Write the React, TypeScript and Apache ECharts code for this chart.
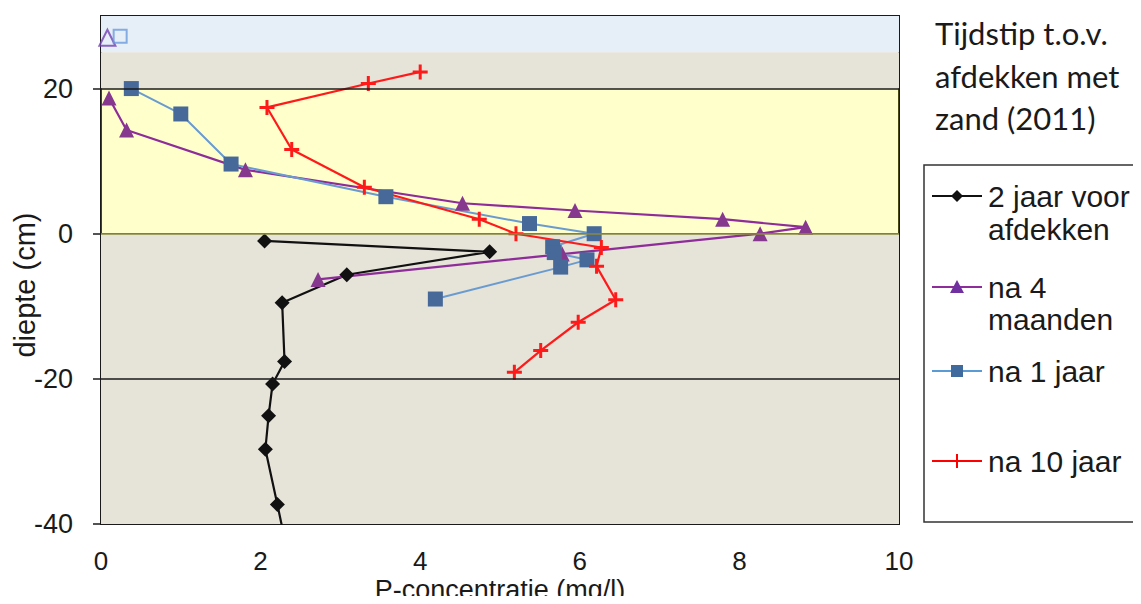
import React, { useEffect, useRef } from "react";
import * as echarts from "echarts";

// ---- data (x = P-concentratie mg/l, y = diepte cm) ----
const serieNames = ["2 jaar voor afdekken", "na 4 maanden", "na 1 jaar", "na 10 jaar"];

const jaar2Voor: number[][] = [
  [2.05, -1.0], [4.87, -2.5], [3.08, -5.65], [2.27, -9.5], [2.30, -17.6],
  [2.15, -20.7], [2.10, -25.1], [2.06, -29.7], [2.21, -37.3], [2.30, -42.0],
];
const na4Maanden: number[][] = [
  [0.10, 18.7], [0.32, 14.3], [1.81, 8.8], [4.53, 4.2], [5.94, 3.2],
  [7.79, 2.0], [8.83, 0.9], [8.26, 0.0], [5.78, -2.8], [2.72, -6.3],
];
const na1Jaar: number[][] = [
  [0.38, 20.0], [1.00, 16.5], [1.63, 9.6], [3.57, 5.1], [5.37, 1.4],
  [6.18, 0.0], [5.66, -1.8], [5.68, -2.6], [6.09, -3.6], [5.76, -4.6], [4.19, -9.0],
];
const na10Jaar: number[][] = [
  [4.00, 22.3], [3.35, 20.7], [2.08, 17.4], [2.39, 11.6], [3.30, 6.4],
  [4.74, 2.0], [5.20, 0.0], [6.27, -1.9], [6.21, -4.5], [6.45, -9.1],
  [5.98, -12.2], [5.51, -16.1], [5.18, -19.1],
];
const waterNa4Maanden: number[][] = [[0.08, 27.0]];
const waterNa1Jaar: number[][] = [[0.24, 27.2]];

const yTickValues = [-40, -20, 0, 20];
const xTickValues = [0, 2, 4, 6, 8, 10];

const legendTitle = ["Tijdstip t.o.v.", "afdekken met", "zand (2011)"];

const PLUS = "path://M4,0H6V4H10V6H6V10H4V6H0V4H4Z";

export default function App() {
  const ref = useRef<HTMLDivElement>(null);
  useEffect(() => {
    if (!ref.current) return;
    const chart = echarts.init(ref.current, undefined, { renderer: "svg" });

    const legendX1 = 932;
    const legendX2 = 982;
    const legendMx = 957;
    const textX = 988;
    const font = "'Liberation Sans', Arial, sans-serif";
    const legendFont = `30px ${font}`;

    const legendItems: any[] = [];
    const addLine = (y: number, color: string) =>
      legendItems.push({
        type: "line",
        shape: { x1: legendX1, y1: y, x2: legendX2, y2: y },
        style: { stroke: color, lineWidth: 2 },
      });
    const addText = (y: number, t: string) =>
      legendItems.push({
        type: "text",
        x: textX,
        y,
        style: { text: t, font: legendFont, fill: "#1a1a1a", verticalAlign: "middle" },
      });

    // item 1: black diamond
    addLine(196, "#111");
    legendItems.push({
      type: "polygon",
      shape: { points: [[legendMx, 190], [legendMx + 6, 196], [legendMx, 202], [legendMx - 6, 196]] },
      style: { fill: "#111" },
    });
    addText(196, "2 jaar voor");
    addText(229, "afdekken");
    // item 2: purple triangle
    addLine(287, "#8E2C99");
    legendItems.push({
      type: "polygon",
      shape: { points: [[legendMx, 280], [legendMx + 7, 293], [legendMx - 7, 293]] },
      style: { fill: "#7030A0" },
    });
    addText(287, "na 4");
    addText(319, "maanden");
    // item 3: blue square
    addLine(371, "#5B9BD5");
    legendItems.push({
      type: "rect",
      shape: { x: legendMx - 6, y: 365, width: 12, height: 12 },
      style: { fill: "#3F6A9E" },
    });
    addText(371, serieNames[2]);
    // item 4: red plus
    addLine(461, "#FF0000");
    legendItems.push({
      type: "line",
      shape: { x1: legendMx, y1: 454, x2: legendMx, y2: 468 },
      style: { stroke: "#FF0000", lineWidth: 2 },
    });
    addText(461, serieNames[3]);

    const option: any = {
      animation: false,
      backgroundColor: "#ffffff",
      grid: {
        left: 101,
        right: 242,
        top: 16,
        bottom: 80,
        outerBoundsMode: "none",
        containLabel: false,
        show: true,
        backgroundColor: "#ffffff",
        borderColor: "#1a1a1a",
        borderWidth: 2,
      },
      xAxis: {
        type: "value",
        min: 0,
        max: 10,
        interval: 2,
        name: "P-concentratie (mg/l)",
        nameLocation: "middle",
        nameGap: 54,
        nameMoveOverlap: false,
        nameTextStyle: { fontFamily: font, fontSize: 27, lineHeight: 24, color: "#1a1a1a" },
        axisLine: { show: true, lineStyle: { color: "#1a1a1a", width: 2 } },
        axisTick: { show: true, length: 8, lineStyle: { color: "#1a1a1a", width: 1.5 }, customValues: xTickValues },
        axisLabel: {
          customValues: xTickValues,
          margin: 28,
          fontFamily: font,
          fontSize: 26,
          lineHeight: 18,
          color: "#1a1a1a",
        },
        splitLine: { show: false },
      },
      yAxis: {
        type: "value",
        min: -40,
        max: 30,
        interval: 20,
        name: "diepte (cm)",
        nameLocation: "middle",
        nameGap: 62,
        nameMoveOverlap: false,
        nameTextStyle: { fontFamily: font, fontSize: 29, color: "#1a1a1a", padding: [0, 30, 0, 0] },
        axisLine: { show: true, lineStyle: { color: "#1a1a1a", width: 2 } },
        axisTick: { show: true, length: 8, lineStyle: { color: "#1a1a1a", width: 1.5 }, customValues: yTickValues },
        axisLabel: {
          customValues: yTickValues,
          margin: 28,
          fontFamily: font,
          fontSize: 27,
          color: "#1a1a1a",
        },
        splitLine: { show: false },
      },
      series: [
        {
          name: "bg",
          type: "line",
          data: [],
          z: 1,
          silent: true,
          markArea: {
            silent: true,
            data: [
              [{ yAxis: 25, itemStyle: { color: "#E6EEF8" } }, { yAxis: 30 }],
              [{ yAxis: 20, itemStyle: { color: "#E6E3D9" } }, { yAxis: 25 }],
              [{ yAxis: -40, itemStyle: { color: "#E6E3D9" } }, { yAxis: 0 }],
            ],
          },
        },
        {
          name: serieNames[0],
          type: "line",
          data: jaar2Voor,
          z: 3,
          symbol: "diamond",
          symbolSize: 15,
          showAllSymbol: true,
          lineStyle: { color: "#111111", width: 2.2 },
          itemStyle: { color: "#111111" },
        },
        {
          name: serieNames[1],
          type: "line",
          data: na4Maanden,
          z: 3,
          symbol: "triangle",
          symbolSize: 15,
          showAllSymbol: true,
          lineStyle: { color: "#8E2C99", width: 2.2 },
          itemStyle: { color: "#86388F" },
        },
        {
          name: serieNames[2],
          type: "line",
          data: na1Jaar,
          z: 3,
          symbol: "rect",
          symbolSize: 15,
          showAllSymbol: true,
          lineStyle: { color: "#6A9BD0", width: 2 },
          itemStyle: { color: "#46699A" },
        },
        {
          name: serieNames[3],
          type: "line",
          data: na10Jaar,
          z: 3,
          symbol: PLUS,
          symbolSize: 15,
          showAllSymbol: true,
          lineStyle: { color: "#FF1A1A", width: 2.2 },
          itemStyle: { color: "#FF1A1A" },
        },
        {
          name: "water na 4 maanden",
          type: "scatter",
          data: waterNa4Maanden,
          z: 4,
          symbol: "triangle",
          symbolSize: 16,
          itemStyle: { color: "rgba(0,0,0,0)", borderColor: "#7040B0", borderWidth: 2 },
        },
        {
          name: "water na 1 jaar",
          type: "scatter",
          data: waterNa1Jaar,
          z: 4,
          symbol: "rect",
          symbolSize: 13,
          itemStyle: { color: "rgba(0,0,0,0)", borderColor: "#6A9BDC", borderWidth: 2 },
        },
        {
          name: "overlay",
          type: "line",
          data: [],
          z: 6,
          silent: true,
          markArea: {
            silent: true,
            data: [[{ yAxis: 0, itemStyle: { color: "rgba(255,255,0,0.2)" } }, { yAxis: 20 }]],
          },
          markLine: {
            silent: true,
            symbol: "none",
            label: { show: false },
            data: [
              { yAxis: 20, lineStyle: { color: "#1a1a1a", width: 1.5, type: "solid" } },
              { yAxis: 0, lineStyle: { color: "#8A8A40", width: 1.5, type: "solid" } },
              { yAxis: -20, lineStyle: { color: "#1a1a1a", width: 1.5, type: "solid" } },
            ],
          },
        },
      ],
      graphic: [
        ...legendTitle.map((t, i) => ({
          type: "text",
          x: 935,
          y: 33 + i * 42.5,
          style: {
            text: t,
            font: "31px Lato, 'Open Sans', sans-serif",
            fill: "#1a1a1a",
            verticalAlign: "middle",
          },
        })),
        {
          type: "rect",
          shape: { x: 924, y: 165, width: 230, height: 357 },
          style: { fill: "#ffffff", stroke: "#333333", lineWidth: 1.5 },
        },
        ...legendItems,
      ],
    };

    chart.setOption(option);
    return () => chart.dispose();
  }, []);

  return <div ref={ref} style={{ width: 1141, height: 604, margin: -8 }} />;
}
